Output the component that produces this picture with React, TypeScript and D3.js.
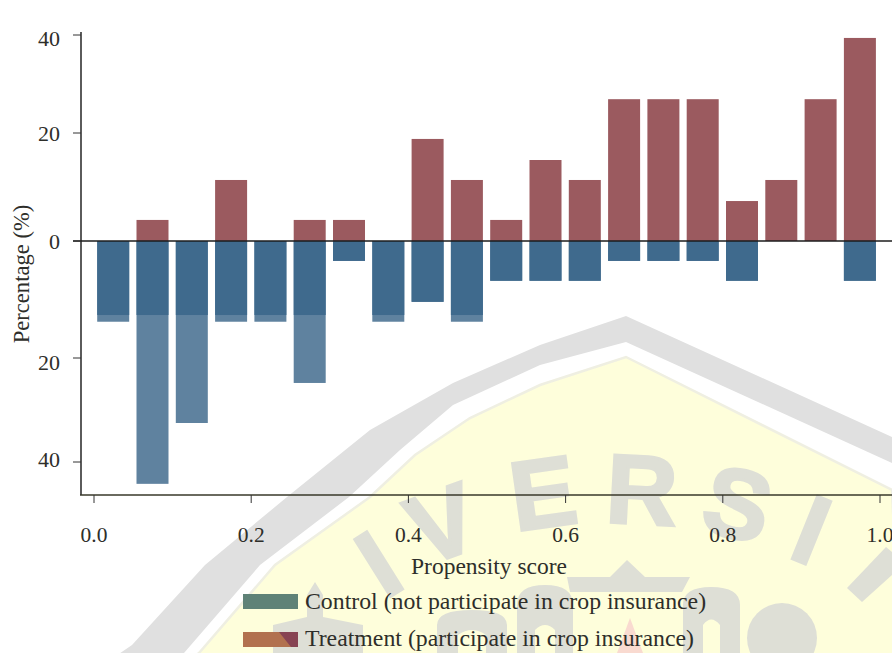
import React from "react";
import * as d3 from "d3";

const W = 892, H = 653;
const treatment = [0, 3.9, 0, 11.3, 0, 3.9, 3.9, 0, 18.9, 11.3, 3.9, 15, 11.3, 26.9, 26.9, 26.9, 7.4, 11.3, 26.9, 39.4];
const control = [13.8, 44.2, 32.5, 13.8, 13.8, 24.8, 3.4, 13.8, 10.4, 13.8, 6.8, 6.8, 6.8, 3.4, 3.4, 3.4, 6.8, 0, 0, 6.8];
const binWidth = 0.05;
const overlapDepth = 12.65;
const xTicks = [0, 0.2, 0.4, 0.6, 0.8, 1.0];
const yTicks = [40, 20, 0, -20, -40];
const yLabelCentres = [38, 133, 241, 362, 459];
const legendItems = ["Control (not participate in crop insurance)", "Treatment (participate in crop insurance)"];

const outerShield: [number, number][] = [[110,660],[132,645],[205,565],[287,497],[370,430],[453,383],[540,345],[626,316],[892,437],[900,660]];
const midShield: [number, number][] = [[175,660],[184,653],[260,565],[349,497],[400,450],[453,405],[540,365],[626,342],[892,463],[900,660]];
const innerShield: [number, number][] = [[190,660],[199,653],[275,565],[370,497],[415,455],[470,418],[540,385],[626,357],[892,490],[900,660]];
const wmLetters: { t: string; x: number; y: number; r: number }[] = [
  { t: "I", x: 378, y: 598, r: -32 },
  { t: "V", x: 442, y: 558, r: -20 },
  { t: "E", x: 543, y: 527, r: -8 },
  { t: "R", x: 642, y: 524, r: 3 },
  { t: "S", x: 738, y: 538, r: 14 },
  { t: "I", x: 812, y: 564, r: 22 },
];

const FONT = "'Liberation Serif', serif";
const INK = "#2e2e2a";
const WM = "#dedfd6";

export default function App() {
  const x = d3.scaleLinear().domain([0, 1]).range([94, 880]);
  const y = d3.scaleLinear().domain([-40, -20, 0, 20, 40]).range([462, 358, 241, 133, 35]);
  const barW = x(binWidth) - x(0) - 7.3;
  const barX = (i: number) => x(i * binWidth) + 3.2;
  const shield = d3.line();

  return (
    <svg width={W} height={H} viewBox={`0 0 ${W} ${H}`}
      style={{ position: "absolute", left: 0, top: 0, display: "block", background: "#fff" }}>
      <g>
        <path d={shield(outerShield)!} fill="#e0e0e0" />
        <path d={shield(midShield)!} fill="#ffffff" />
        <path d={shield(innerShield)!} fill="#fefedb" stroke="#efefe2" strokeWidth={2.5} />
        {wmLetters.map((l, i) => (
          <text key={i} x={l.x} y={l.y} transform={`rotate(${l.r} ${l.x} ${l.y - 35})`} textAnchor="middle"
            fontFamily="'Liberation Sans', sans-serif" fontWeight={700} fontSize={98} fill={WM} stroke={WM} strokeWidth={3}>{l.t}</text>
        ))}
        <path d="M847 588 L886 547 L892 552 L892 575 L862 602 Z" fill={WM} />
        <path d="M627 560 L645 577 L690 577 L682 592 L570 592 L567 577 L610 577 Z" fill={WM} />
        <path fillRule="evenodd" d="M517 653 L517 605 Q517 585 545 585 Q573 585 573 605 L573 653 Z M535 653 L535 630 Q545 620 555 630 L555 653 Z
          M683 653 L683 605 Q683 587 711 587 Q740 587 740 605 L740 653 Z M703 653 L703 625 Q711 614 720 625 L720 653 Z
          M273 653 L273 625 L307 617 L307 595 L315 582 L323 595 L323 617 L363 625 L363 653 Z
          M437 653 L437 625 Q437 610 472 610 Q507 610 507 625 L507 653 Z M458 653 L458 635 Q472 625 486 635 L486 653 Z" fill={WM} />
        <circle cx={782} cy={638} r={35} fill={WM} />
        <path d="M630 618 L643 653 L617 653 Z" fill="#f9dad0" />
      </g>

      {treatment.map((v, i) => v > 0 && (
        <rect key={i} x={barX(i)} y={y(v)} width={barW} height={y(0) - y(v)} fill="#9b5a5f" />
      ))}
      {control.map((v, i) => v > 0 && (
        <g key={i}>
          <rect x={barX(i)} y={y(0)} width={barW} height={y(-v) - y(0)} fill="#5f829f" />
          <rect x={barX(i)} y={y(0)} width={barW} height={y(-Math.min(v, overlapDepth)) - y(0)} fill="#3f6a8d" />
        </g>
      ))}

      <g stroke="#333" fill="none">
        <line x1={81} x2={81} y1={y(40) - 3} y2={495} strokeWidth={1.6} />
        <line x1={80} x2={W} y1={495} y2={495} strokeWidth={1.6} stroke="#38382a" />
        <line x1={73} x2={W} y1={y(0)} y2={y(0)} strokeWidth={1.3} stroke="#1c1c1c" />
        {yTicks.map((t) => <line key={t} x1={73} x2={81} y1={y(t)} y2={y(t)} strokeWidth={1} />)}
        {xTicks.map((t) => <line key={t} x1={x(t)} x2={x(t)} y1={495} y2={503} strokeWidth={1} />)}
      </g>

      <g fontFamily={FONT} fill={INK} fontSize={22}>
        {yTicks.map((t, i) => (
          <text key={t} x={60} y={yLabelCentres[i] + 7.5} textAnchor="end">{Math.abs(t)}</text>
        ))}
        {xTicks.map((t) => (
          <text key={t} x={x(t)} y={542} textAnchor="middle" fontSize={21.5}>{t.toFixed(1)}</text>
        ))}
        <text x={489} y={574} textAnchor="middle" fontSize={23.5}>Propensity score</text>
        <text transform={`translate(29 274) rotate(-90)`} textAnchor="middle" fontSize={22.6}>Percentage (%)</text>
      </g>

      <g fontFamily={FONT} fill={INK} fontSize={23.8}>
        <rect x={243} y={594} width={55} height={15} fill="#5f8277" />
        <text x={305} y={609}>{legendItems[0]}</text>
        <rect x={243} y={632} width={55} height={15} fill="#b2714f" />
        <path d="M279 632 L298 632 L298 647 L291 647 Z" fill="#874353" />
        <text x={305} y={646}>{legendItems[1]}</text>
      </g>
    </svg>
  );
}
